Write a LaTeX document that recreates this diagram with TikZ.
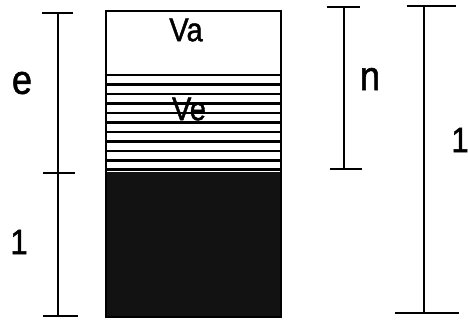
\documentclass[tikz,border=0pt]{standalone}
\usepackage{fontspec}
\setmainfont{Liberation Sans}
\newfontfamily\lblfont{Liberation Sans}[BoldFont=Liberation Sans, BoldFeatures={FakeBold=1.4}]
\usetikzlibrary{calc}
\newcommand{\narrow}[1]{\scalebox{0.88}[1]{#1}}
\tikzset{
  rule/.style={line width=2.6pt},
  hatch/.style={line width=2.2pt},
  lbl/.style={inner sep=0pt, font=\lblfont\bfseries\fontsize{41}{41}\selectfont},
  digit/.style={inner sep=0pt, font=\lblfont\bfseries\fontsize{35}{35}\selectfont},
  vol/.style={inner sep=0pt, font=\lblfont\bfseries\fontsize{33}{33}\selectfont}
}

\begin{document}
\begin{tikzpicture}[x=1pt, y=-1pt, line cap=butt]
    \useasboundingbox (0,0) rectangle (468,320);
    % the column
    \coordinate (boxtl) at (106,11);
    \coordinate (boxbr) at (281,317);
    \coordinate (mid) at (106,172);
    \fill [black!93] (mid) rectangle (boxbr);
    \foreach \y in {75,84.5,94,103.5,113,122.5,132,141.5,151,160.5,169.5}
      \draw [hatch] (106,\y) -- (281,\y);
    \draw [rule] (boxtl) rectangle (boxbr);
    \node [vol] at (186,30) (va) {\narrow{Va}};
    \node [vol] at (189,109) (ve) {\narrow{Ve}};
    % bracket e and 1
    \coordinate (e1) at (58,13);
    \coordinate (e2) at (58,173);
    \coordinate (e3) at (58,316);
    \draw [rule] (e1) to (e2);
    \draw [rule] (e2) to (e3);
    \draw [rule] ($(e1)+(-16,0)$) to ++(31,0);
    \draw [rule] ($(e2)+(-15,0)$) to ++(32,0);
    \draw [rule] ($(e3)+(-15,0)$) to ++(35,0);
    \node [lbl] at (22,83) (le) {\narrow{e}};
    \node [digit] at (19,242) (lone) {\narrow{1}};
    % bracket n
    \coordinate (n1) at (344,7);
    \coordinate (n2) at (344,169);
    \draw [rule] (n1) to (n2);
    \draw [rule] ($(n1)+(-17,0)$) to ++(33,0);
    \draw [rule] ($(n2)+(-14,0)$) to ++(32,0);
    \node [lbl] at (370,79) (ln) {\narrow{n}};
    % bracket 1
    \coordinate (r1) at (424,6);
    \coordinate (r2) at (424,313);
    \draw [rule] (r1) to (r2);
    \draw [rule] ($(r1)+(-17,0)$) to ++(49,0);
    \draw [rule] ($(r2)+(-29,0)$) to ++(64,0);
    \node [digit] at (460,140) (rone) {\narrow{1}};
\end{tikzpicture}
\end{document}
